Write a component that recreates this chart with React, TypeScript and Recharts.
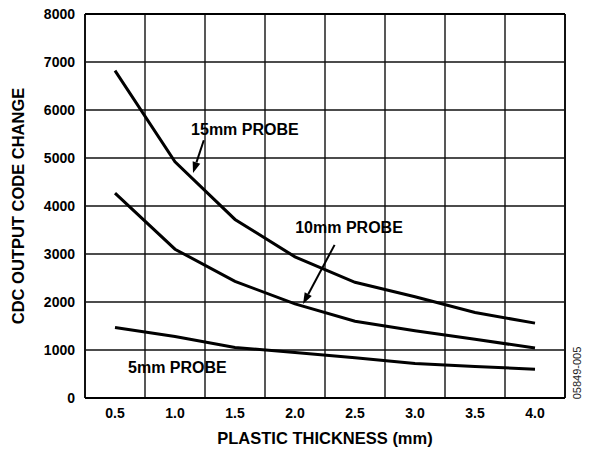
import React from "react";
import {
  CartesianGrid,
  Label,
  Line,
  LineChart,
  ReferenceArea,
  ReferenceLine,
  XAxis,
  YAxis,
} from "recharts";

// plastic thickness (mm)
const thickness = [0.5, 1.0, 1.5, 2.0, 2.5, 3.0, 3.5, 4.0];

// CDC output code change per probe size
const probe15mm = [6820, 4920, 3720, 2940, 2410, 2110, 1780, 1560];
const probe10mm = [4270, 3100, 2430, 1960, 1600, 1400, 1225, 1040];
const probe5mm = [1470, 1280, 1050, 950, 840, 720, 655, 600];

const yTicks = [0, 1000, 2000, 3000, 4000, 5000, 6000, 7000, 8000];
// vertical grid lines sit between the thickness columns
const cellEdges = [0.25, 0.75, 1.25, 1.75, 2.25, 2.75, 3.25, 3.75, 4.25];

const data = thickness.map((t, i) => ({
  t,
  p15: probe15mm[i],
  p10: probe10mm[i],
  p5: probe5mm[i],
}));

const FONT = "'Liberation Sans', Arial, Helvetica, sans-serif";

const Arrow = (props: any) => {
  const { x1, y1, x2, y2 } = props;
  const ang = Math.atan2(y2 - y1, x2 - x1);
  const len = 11;
  const half = 4;
  const bx = x2 - len * Math.cos(ang);
  const by = y2 - len * Math.sin(ang);
  const px = -Math.sin(ang) * half;
  const py = Math.cos(ang) * half;
  return (
    <g>
      <line x1={x1} y1={y1} x2={bx} y2={by} stroke="#000" strokeWidth={2} />
      <polygon
        points={`${x2},${y2} ${bx + px},${by + py} ${bx - px},${by - py}`}
        fill="#000"
      />
    </g>
  );
};

const boxLabel = (value: string) => ({
  value,
  position: "center" as const,
  fill: "#000",
  fontSize: 16,
  fontWeight: "bold",
  fontFamily: FONT,
});

export default function App() {
  return (
    <div style={{ position: "absolute", left: 0, top: 0, background: "#fff" }}>
      <LineChart
        width={592}
        height={449}
        data={data}
        margin={{ top: 14, right: 0, bottom: 0, left: 0 }}
      >
        <CartesianGrid vertical={false} stroke="#111" strokeWidth={1.4} />
        {cellEdges.map((x) => (
          <ReferenceLine
            key={x}
            x={x}
            stroke="#111"
            strokeWidth={x === 0.25 || x === 4.25 ? 2 : 1.4}
          />
        ))}
        <ReferenceLine y={0} stroke="#000" strokeWidth={2} />
        <ReferenceLine y={8000} stroke="#000" strokeWidth={2} />

        <ReferenceArea
          x1={1.125}
          x2={2.04}
          y1={5230}
          y2={5980}
          fill="#fff"
          fillOpacity={1}
          stroke="none"
          label={boxLabel("15mm PROBE")}
        />
        <ReferenceArea
          x1={1.98}
          x2={2.92}
          y1={3150}
          y2={3980}
          fill="#fff"
          fillOpacity={1}
          stroke="none"
          label={boxLabel("10mm PROBE")}
        />
        <ReferenceArea
          x1={0.58}
          x2={1.46}
          y1={310}
          y2={980}
          fill="#fff"
          fillOpacity={1}
          stroke="none"
          label={boxLabel("5mm PROBE")}
        />

        <XAxis
          dataKey="t"
          type="number"
          domain={[0.25, 4.25]}
          ticks={thickness}
          tickFormatter={(v: number) => v.toFixed(1)}
          axisLine={false}
          tickLine={false}
          tickSize={0}
          tickMargin={10}
          height={51}
          tick={{ fill: "#000", fontSize: 14, fontWeight: "bold", fontFamily: FONT }}
        >
          <Label
            value="PLASTIC THICKNESS (mm)"
            position="insideBottom"
            offset={5}
            fill="#000"
            fontSize={16.5}
            fontWeight="bold"
            fontFamily={FONT}
          />
        </XAxis>
        <YAxis
          type="number"
          domain={[0, 8000]}
          ticks={yTicks}
          axisLine={false}
          tickLine={false}
          tickSize={0}
          tickMargin={10}
          width={85}
          interval={0}
          tick={{ fill: "#000", fontSize: 14, fontWeight: "bold", fontFamily: FONT }}
        >
          <Label
            value="CDC OUTPUT CODE CHANGE"
            angle={-90}
            position="insideLeft"
            offset={18}
            fill="#000"
            fontSize={16.5}
            fontWeight="bold"
            fontFamily={FONT}
            style={{ textAnchor: "middle" }}
          />
        </YAxis>
        <YAxis
          yAxisId="note"
          orientation="right"
          width={27}
          axisLine={false}
          tickLine={false}
          tick={false}
        >
          <Label
            content={(p: any) => {
              const vb = p.viewBox || { x: 565, y: 14, width: 27, height: 384 };
              const x = vb.x + 16;
              const y = 373;
              return (
                <text
                  x={x}
                  y={y}
                  transform={`rotate(-90, ${x}, ${y})`}
                  textAnchor="middle"
                  fontSize={11}
                  fontFamily={FONT}
                  fill="#222"
                >
                  05849-005
                </text>
              );
            }}
          />
        </YAxis>

        <Line type="linear" dataKey="p15" stroke="#000" strokeWidth={3} dot={false} isAnimationActive={false} />
        <Line type="linear" dataKey="p10" stroke="#000" strokeWidth={3} dot={false} isAnimationActive={false} />
        <Line type="linear" dataKey="p5" stroke="#000" strokeWidth={3} dot={false} isAnimationActive={false} />

        <ReferenceLine
          segment={[
            { x: 1.24, y: 5370 },
            { x: 1.15, y: 4690 },
          ]}
          shape={<Arrow />}
        />
        <ReferenceLine
          segment={[
            { x: 2.33, y: 3190 },
            { x: 2.067, y: 1960 },
          ]}
          shape={<Arrow />}
        />
      </LineChart>
    </div>
  );
}
